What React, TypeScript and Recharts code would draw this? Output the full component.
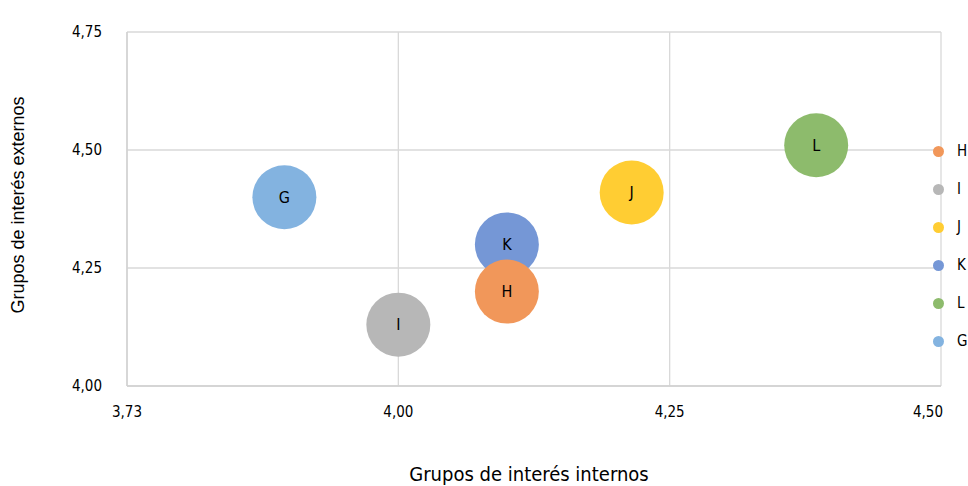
import React from "react";
import {
  ScatterChart,
  Scatter,
  XAxis,
  YAxis,
  ZAxis,
  CartesianGrid,
  LabelList,
} from "recharts";

const seriesNames = ["H", "I", "J", "K", "L", "G"];
const xValues = [4.1, 4.0, 4.215, 4.1, 4.385, 3.895];
const yValues = [4.2, 4.13, 4.41, 4.3, 4.51, 4.4];
const bubbleSizes = [1, 1, 1, 1, 1, 1];
const colors = ["#F1975A", "#B7B7B7", "#FFCD33", "#7597D6", "#8DBB6C", "#83B3E0"];

const xTicks = [3.75, 4.0, 4.25, 4.5];
const xTickLabels = ["3,73", "4,00", "4,25", "4,50"];
const yTicks = [4.0, 4.25, 4.5, 4.75];
const yTickLabels = ["4,00", "4,25", "4,50", "4,75"];

const xTitle = "Grupos de interés internos";
const yTitle = "Grupos de interés externos";

const FONT = "'DejaVu Sans Condensed', 'Liberation Sans Narrow', Roboto, sans-serif";

// draw order: K before H so H overlaps K
const drawOrder = [5, 4, 3, 2, 1, 0];

const XTick = (props: any) => {
  const { x, y, payload, index } = props;
  const last = index === xTicks.length - 1;
  return (
    <text
      x={last ? x + 2 : x}
      y={y + 20}
      dy="0.71em"
      textAnchor={last ? "end" : "middle"}
      fontSize={15}
      fontFamily={FONT}
      fill="#000"
    >
      {xTickLabels[xTicks.indexOf(payload.value)]}
    </text>
  );
};

const LegendBox = () => (
  <div
    style={{
      position: "absolute",
      left: 933,
      top: 132,
      width: 35,
      fontFamily: FONT,
      fontSize: 15,
      color: "#000",
    }}
  >
    {seriesNames.map((n, i) => (
      <div key={n} style={{ display: "flex", alignItems: "center", height: 38 }}>
        <div
          style={{
            width: 11,
            height: 11,
            borderRadius: "50%",
            background: colors[i],
          }}
        />
        <span style={{ marginLeft: 13 }}>{n}</span>
      </div>
    ))}
  </div>
);

export default function App() {
  return (
    <div style={{ position: "absolute", left: 0, top: 0, width: 968, height: 486, background: "#fff" }}>
      <ScatterChart
        width={968}
        height={486}
        margin={{ top: 32, right: 27, left: 0, bottom: 0 }}
        style={{ fontFamily: FONT }}
      >
        <CartesianGrid stroke="#d9d9d9" strokeWidth={1.3} />
        <XAxis
          type="number"
          dataKey="x"
          domain={[3.75, 4.5]}
          ticks={xTicks}
          height={100}
          tickSize={0}
          tickMargin={0}
          interval={0}
          axisLine={{ stroke: "#d0d0d0", strokeWidth: 1.3 }}
          tick={<XTick />}
          label={{
            content: () => (
              <text x={529} y={481} textAnchor="middle" fontSize={20} fontFamily={FONT} fill="#000">
                {xTitle}
              </text>
            ),
          }}
        />
        <YAxis
          type="number"
          dataKey="y"
          domain={[4.0, 4.75]}
          ticks={yTicks}
          tickFormatter={(v: number) => yTickLabels[yTicks.indexOf(v)]}
          width={127}
          tickSize={0}
          tickMargin={25}
          axisLine={{ stroke: "#d0d0d0", strokeWidth: 1.3 }}
          tick={{ fill: "#000", fontSize: 15, fontFamily: FONT }}
          label={{
            content: () => (
              <text
                x={24}
                y={205}
                textAnchor="middle"
                fontSize={18}
                fontFamily="'Liberation Sans', Arial, sans-serif"
                fill="#000"
                transform="rotate(-90 24 205)"
              >
                {yTitle}
              </text>
            ),
          }}
        />
        <ZAxis type="number" dataKey="z" range={[3217, 3217]} />
        {drawOrder.map((i) => (
          <Scatter
            key={seriesNames[i]}
            name={seriesNames[i]}
            data={[{ x: xValues[i], y: yValues[i], z: bubbleSizes[i], name: seriesNames[i] }]}
            fill={colors[i]}
            isAnimationActive={false}
          >
            <LabelList dataKey="name" position="center" fill="#000" fontSize={16} fontFamily={FONT} />
          </Scatter>
        ))}
      </ScatterChart>
      <LegendBox />
    </div>
  );
}
